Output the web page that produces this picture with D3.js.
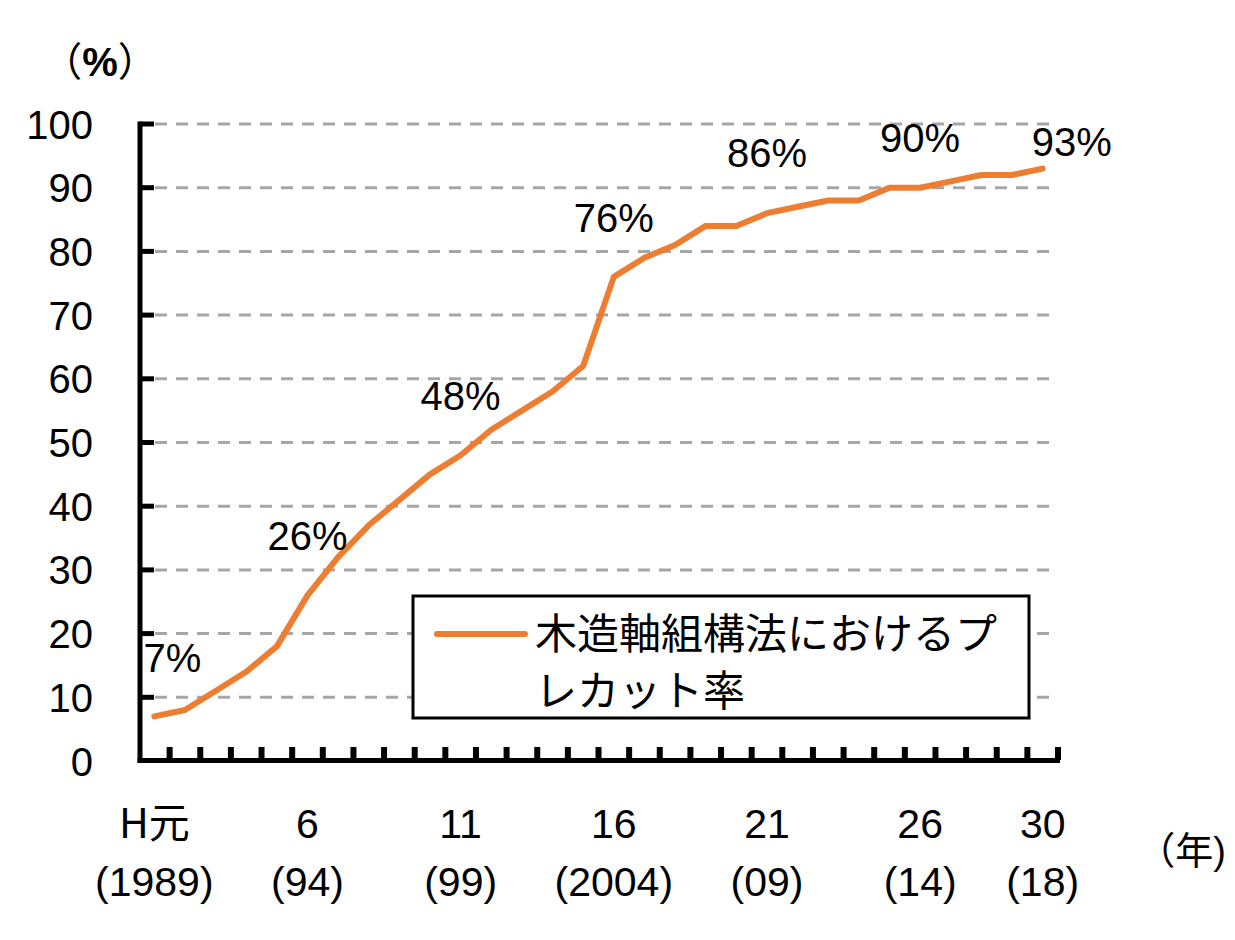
<!DOCTYPE html>
<html>
<head>
<meta charset="utf-8">
<script src="https://cdn.jsdelivr.net/npm/d3@7/dist/d3.min.js"></script>
<style>
  html, body { margin: 0; padding: 0; background: #fff; }
  svg { display: block; }
  text { fill: #000; }
</style>
</head>
<body>
<svg id="chart" width="1235" height="940"></svg>
<script>
// ---- data ----
const years = d3.range(1, 31); // Heisei 1 .. 30
const precutRate = [7, 8, 11, 14, 18, 26, 32, 37, 41, 45, 48, 52, 55, 58, 62,
                    76, 79, 81, 84, 84, 86, 87, 88, 88, 90, 90, 91, 92, 92, 93];
const tickYears = [1, 6, 11, 16, 21, 26, 30];
const tickLine1 = ["H元", "6", "11", "16", "21", "26", "30"];
const tickLine2 = ["(1989)", "(94)", "(99)", "(2004)", "(09)", "(14)", "(18)"];
const yTicks = [0, 10, 20, 30, 40, 50, 60, 70, 80, 90, 100];
const labelYears = [1, 6, 11, 16, 21, 26, 30];
const seriesName1 = "木造軸組構法におけるプ";
const seriesName2 = "レカット率";

// ---- layout (pixel offsets for annotation labels) ----
const labelOffsets = [[18, -44], [0, -45], [0, -45], [0, -45], [0, -46], [0, -36], [29, -13]];

const svg = d3.select("#chart");
const numFont = "'Liberation Sans', Arial, sans-serif";
const jpFont = "'Noto Sans CJK JP', 'Liberation Sans', sans-serif";
const orange = "#ed7d31";

const x = d3.scaleBand().domain(years).range([139, 1058]).padding(0);
const y = d3.scaleLinear().domain([0, 100]).range([761, 124]);
const cx = d => x(d) + x.bandwidth() / 2;

// gridlines
svg.append("g").selectAll("line").data(yTicks.filter(v => v > 0)).join("line")
  .attr("x1", 155).attr("x2", 1058)
  .attr("y1", d => y(d)).attr("y2", d => y(d))
  .attr("stroke", "#a6a6a6").attr("stroke-width", 3)
  .attr("stroke-dasharray", "12,9");

// y axis
const yAxis = d3.axisLeft(y).tickValues(yTicks).tickSize(0).tickPadding(0).tickFormat(d3.format("d"));
const gy = svg.append("g").attr("transform", "translate(140,0)").call(yAxis);
gy.select(".domain").remove();
gy.selectAll("text").attr("x", -47).attr("dy", "0.35em")
  .style("font-family", numFont).style("font-size", "40px").attr("fill", "#000");
// inward ticks on y axis
svg.append("g").selectAll("line").data(yTicks.filter(v => v > 0)).join("line")
  .attr("x1", 140).attr("x2", 154)
  .attr("y1", d => y(d)).attr("y2", d => y(d))
  .attr("stroke", "#000").attr("stroke-width", 5);
svg.append("line").attr("x1", 140).attr("x2", 140).attr("y1", y(100) - 2.5).attr("y2", 763)
  .attr("stroke", "#000").attr("stroke-width", 5);

// x axis line and inward ticks at category boundaries
svg.append("line").attr("x1", 137.5).attr("x2", 1060).attr("y1", 760.5).attr("y2", 760.5)
  .attr("stroke", "#000").attr("stroke-width", 5);
const boundaries = years.slice(1).map(d => x(d)).concat([x(30) + x.bandwidth()]);
svg.append("g").selectAll("line").data(boundaries).join("line")
  .attr("x1", d => d).attr("x2", d => d)
  .attr("y1", 747).attr("y2", 760)
  .attr("stroke", "#000").attr("stroke-width", 6);

// x tick labels (two lines)
const xl = svg.append("g").selectAll("text").data(tickYears).join("text")
  .attr("x", d => cx(d)).attr("text-anchor", "middle")
  .style("font-family", numFont).style("font-size", "41px");
xl.append("tspan").attr("x", d => cx(d)).attr("y", 838)
  .text((d, i) => tickLine1[i])
  .style("font-family", (d, i) => i === 0 ? jpFont : numFont);
xl.append("tspan").attr("x", d => cx(d)).attr("y", 896)
  .text((d, i) => tickLine2[i]);

// unit labels
const pct = svg.append("text").attr("x", 100).attr("y", 76).attr("text-anchor", "middle")
  .style("font-family", jpFont).style("font-size", "40px");
pct.append("tspan").text("（");
pct.append("tspan").style("font-weight", "bold").style("font-family", numFont).text("%");
pct.append("tspan").text("）");
const yr = svg.append("text").attr("x", 1226).attr("y", 864).attr("text-anchor", "end")
  .style("font-family", jpFont).style("font-size", "38px");
yr.append("tspan").text("（年");
yr.append("tspan").style("font-family", numFont).text(")");

// line
const line = d3.line().x((d, i) => cx(years[i])).y(d => y(d));
svg.append("path").datum(precutRate).attr("d", line)
  .attr("fill", "none").attr("stroke", orange).attr("stroke-width", 6)
  .attr("stroke-linejoin", "round").attr("stroke-linecap", "round");

// value labels
svg.append("g").selectAll("text").data(labelYears).join("text")
  .attr("x", (d, i) => cx(d) + labelOffsets[i][0])
  .attr("y", (d, i) => y(precutRate[d - 1]) + labelOffsets[i][1])
  .attr("text-anchor", "middle")
  .style("font-family", numFont).style("font-size", "40px")
  .text(d => precutRate[d - 1] + "%");

// legend
const lg = svg.append("g");
lg.append("rect").attr("x", 413).attr("y", 596).attr("width", 616).attr("height", 122)
  .attr("fill", "#fff").attr("stroke", "#000").attr("stroke-width", 3);
lg.append("line").attr("x1", 437).attr("x2", 525).attr("y1", 634).attr("y2", 634)
  .attr("stroke", orange).attr("stroke-width", 6).attr("stroke-linecap", "round");
lg.append("text").attr("x", 535).attr("y", 649)
  .style("font-family", jpFont).style("font-size", "42px").text(seriesName1);
lg.append("text").attr("x", 535).attr("y", 706)
  .style("font-family", jpFont).style("font-size", "42px").text(seriesName2);
</script>
</body>
</html>
